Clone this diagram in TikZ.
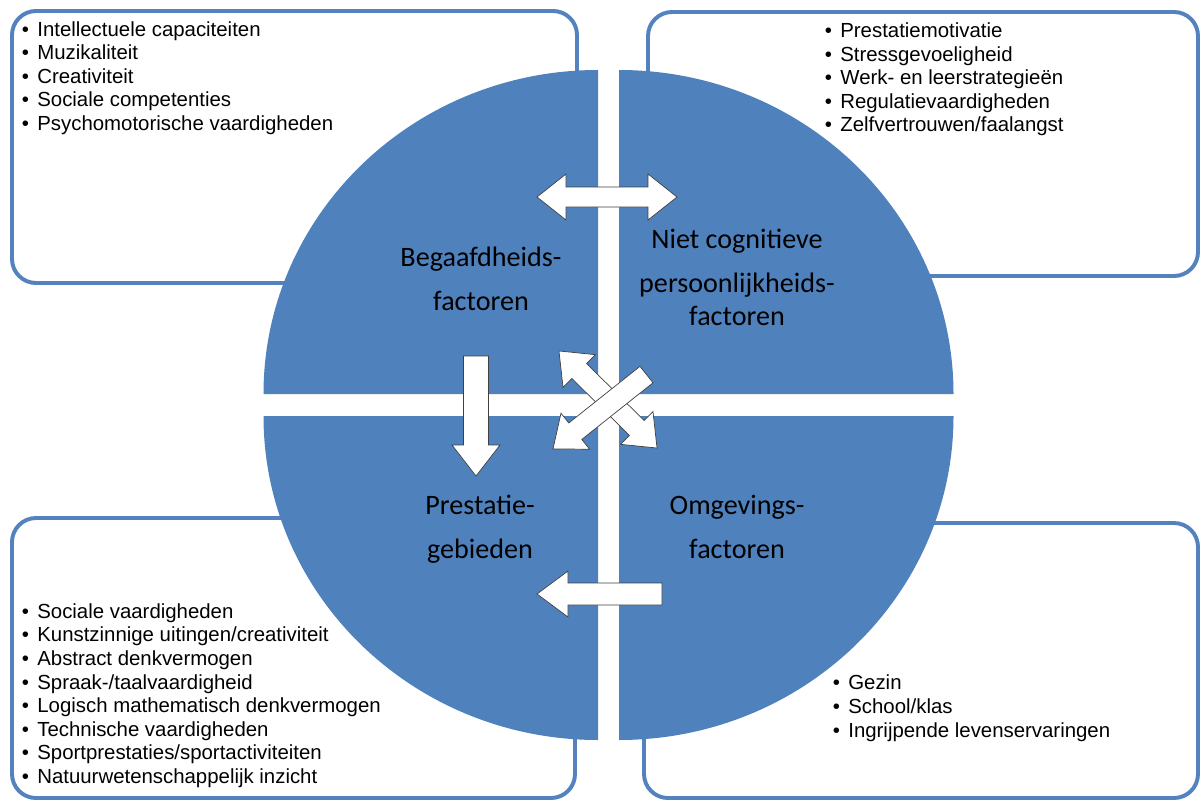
\documentclass[tikz,border=0pt]{standalone}
\usepackage{fontspec}
\setmainfont{Liberation Sans}
\newfontfamily\pielabelfont{Carlito}
\usetikzlibrary{positioning}
\definecolor{pieBlue}{RGB}{79,129,189}
\definecolor{lineBlue}{RGB}{84,130,190}
\newcommand{\bul}{\textbullet\hspace{6pt}}
\tikzset{
  listbox/.style={draw=lineBlue, line width=2.8pt, rounded corners=0.6cm, fill=white},
  pie/.style={fill=pieBlue},
  itemlist/.style={anchor=base west, align=left, inner sep=0pt,
                   font=\fontsize{14.5}{16.8}\selectfont},
  pielabel/.style={anchor=base, align=center, inner sep=0pt,
                   font=\pielabelfont\fontsize{20}{31}\selectfont},
  blockarrow/.style={fill=white, draw=black!75, line width=0.5pt}
}

\begin{document}
\begin{tikzpicture}[x=0.025cm, y=-0.025cm]
\useasboundingbox (0,0) rectangle (1201,801);
\fill[white] (0,0) rectangle (1201,801);
% lijstvakken
\draw[listbox] (12,11) rectangle (577,283);
\draw[listbox] (648,12) rectangle (1198,276);
\draw[listbox] (12,518) rectangle (575,798);
\draw[listbox] (644,523) rectangle (1198,798);
% vier kwarten
\fill[pie] (598,394) -- (263.5,394) arc[start angle=180, end angle=270, x radius=334.5, y radius=324] -- cycle;
\fill[pie] (619,394) -- (619,70) arc[start angle=270, end angle=360, x radius=334.5, y radius=324] -- cycle;
\fill[pie] (619,416) -- (953.5,416) arc[start angle=0, end angle=90, x radius=334.5, y radius=324] -- cycle;
\fill[pie] (598,416) -- (598,740) arc[start angle=90, end angle=180, x radius=334.5, y radius=324] -- cycle;
% teksten in de kwarten (base = laatste regel)
\node[pielabel] (begaafd) at (481,310) {Begaafdheids-\\factoren};
\node[pielabel] (nietcog) at (737,325) {Niet cognitieve\\[0.5pt]persoonlijkheids-\\[-8pt]factoren};
\node[pielabel] (prest) at (480,558) {Prestatie-\\gebieden};
\node[pielabel] (omgev) at (737,558) {Omgevings-\\factoren};
% lijsten
\node[itemlist] (begaafdlist) at (21.5,130.5) {\bul Intellectuele capaciteiten\\\bul Muzikaliteit\\\bul Creativiteit\\\bul Sociale competenties\\\bul Psychomotorische vaardigheden};
\node[itemlist] (nietcoglist) at (824.5,132) {\bul Prestatiemotivatie\\\bul Stressgevoeligheid\\\bul Werk- en leerstrategieën\\\bul Regulatievaardigheden\\\bul Zelfvertrouwen/faalangst};
\node[itemlist] (prestlist) at (21.5,783.5) {\bul Sociale vaardigheden\\\bul Kunstzinnige uitingen/creativiteit\\\bul Abstract denkvermogen\\\bul Spraak-/taalvaardigheid\\\bul Logisch mathematisch denkvermogen\\\bul Technische vaardigheden\\\bul Sportprestaties/sportactiviteiten\\\bul Natuurwetenschappelijk inzicht};
\node[itemlist] (omgevlist) at (832.5,737) {\bul Gezin\\\bul School/klas\\\bul Ingrijpende levenservaringen};
% blokpijlen
\begin{scope}[shift={(607,197)}]
  \draw[blockarrow] (-70,0) -- (-41,-23) -- (-41,-10) -- (41,-10) -- (41,-23) -- (70,0) -- (41,23) -- (41,10) -- (-41,10) -- (-41,23) -- cycle;
\end{scope}
\begin{scope}[shift={(476,416)}, rotate=-90]
  \draw[blockarrow] (-60,-12.5) -- (29,-12.5) -- (29,-24) -- (60,0) -- (29,24) -- (29,12.5) -- (-60,12.5) -- cycle;
\end{scope}
\begin{scope}[shift={(599.5,594)}, rotate=180]
  \draw[blockarrow] (-62.5,-11) -- (31.5,-11) -- (31.5,-23) -- (62.5,0) -- (31.5,23) -- (31.5,11) -- (-62.5,11) -- cycle;
\end{scope}
\begin{scope}[shift={(608,399.5)}, rotate=-44.7]
  \draw[blockarrow] (-69,0) -- (-40.5,-23) -- (-40.5,-10.5) -- (40.5,-10.5) -- (40.5,-23) -- (69,0) -- (40.5,23) -- (40.5,10.5) -- (-40.5,10.5) -- (-40.5,23) -- cycle;
\end{scope}
\begin{scope}[shift={(599.75,411.75)}, rotate=-141.5]
  \draw[blockarrow] (-59.75,-10.5) -- (31.25,-10.5) -- (31.25,-23) -- (59.75,0) -- (31.25,23) -- (31.25,10.5) -- (-59.75,10.5) -- cycle;
\end{scope}
\end{tikzpicture}
\end{document}
